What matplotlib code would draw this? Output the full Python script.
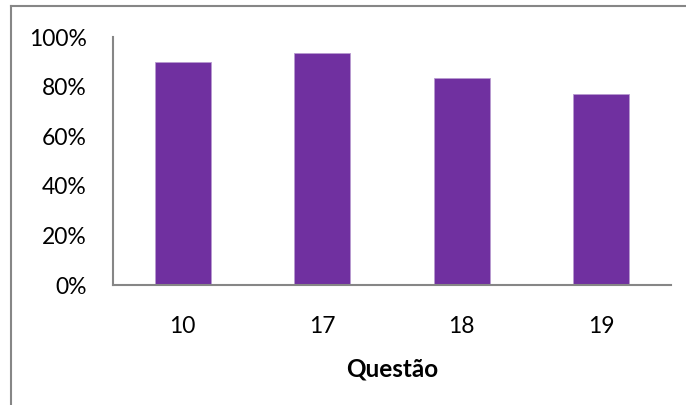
import matplotlib.pyplot as plt
from matplotlib.lines import Line2D
from matplotlib.ticker import PercentFormatter

questions = ['10', '17', '18', '19']
shares = [0.90, 0.935, 0.835, 0.77]

W, H = 686, 405
fig = plt.figure(figsize=(W / 100, H / 100), dpi=100)
plt.rcParams['font.family'] = ['Lato', 'DejaVu Sans']

ax = fig.add_axes([113 / W, (H - 285) / H, (671 - 113) / W, (285 - 37) / H])
ax.bar(range(len(questions)), shares, width=0.4, color='#7030A0',
       edgecolor='#B89AD0', linewidth=0.6)

ax.set_xlim(-0.5, len(questions) - 0.5)
ax.set_ylim(0, 1)
ax.set_yticks([0, 0.2, 0.4, 0.6, 0.8, 1.0])
ax.yaxis.set_major_formatter(PercentFormatter(1.0, decimals=0))
ax.set_xticks(range(len(questions)))
ax.set_xticklabels(questions)

for side in ('top', 'right'):
    ax.spines[side].set_visible(False)
for side in ('left', 'bottom'):
    ax.spines[side].set_color('#868686')
    ax.spines[side].set_linewidth(1.5)

ax.tick_params(axis='both', length=0, labelsize=16.5, colors='black')
ax.tick_params(axis='x', pad=22)
ax.tick_params(axis='y', pad=19)
ax.set_xlabel('Questão', fontsize=17.5, fontweight='bold', labelpad=15)

# chart area frame: only its top and left edges fall inside the image
fig.add_artist(Line2D([11 / W, 11 / W], [0, 1 - 6 / H], transform=fig.transFigure,
                      color='#868686', linewidth=1.5))
fig.add_artist(Line2D([11 / W, 1], [1 - 6 / H, 1 - 6 / H], transform=fig.transFigure,
                      color='#868686', linewidth=1.5))

fig.savefig('out.png', dpi=100)
